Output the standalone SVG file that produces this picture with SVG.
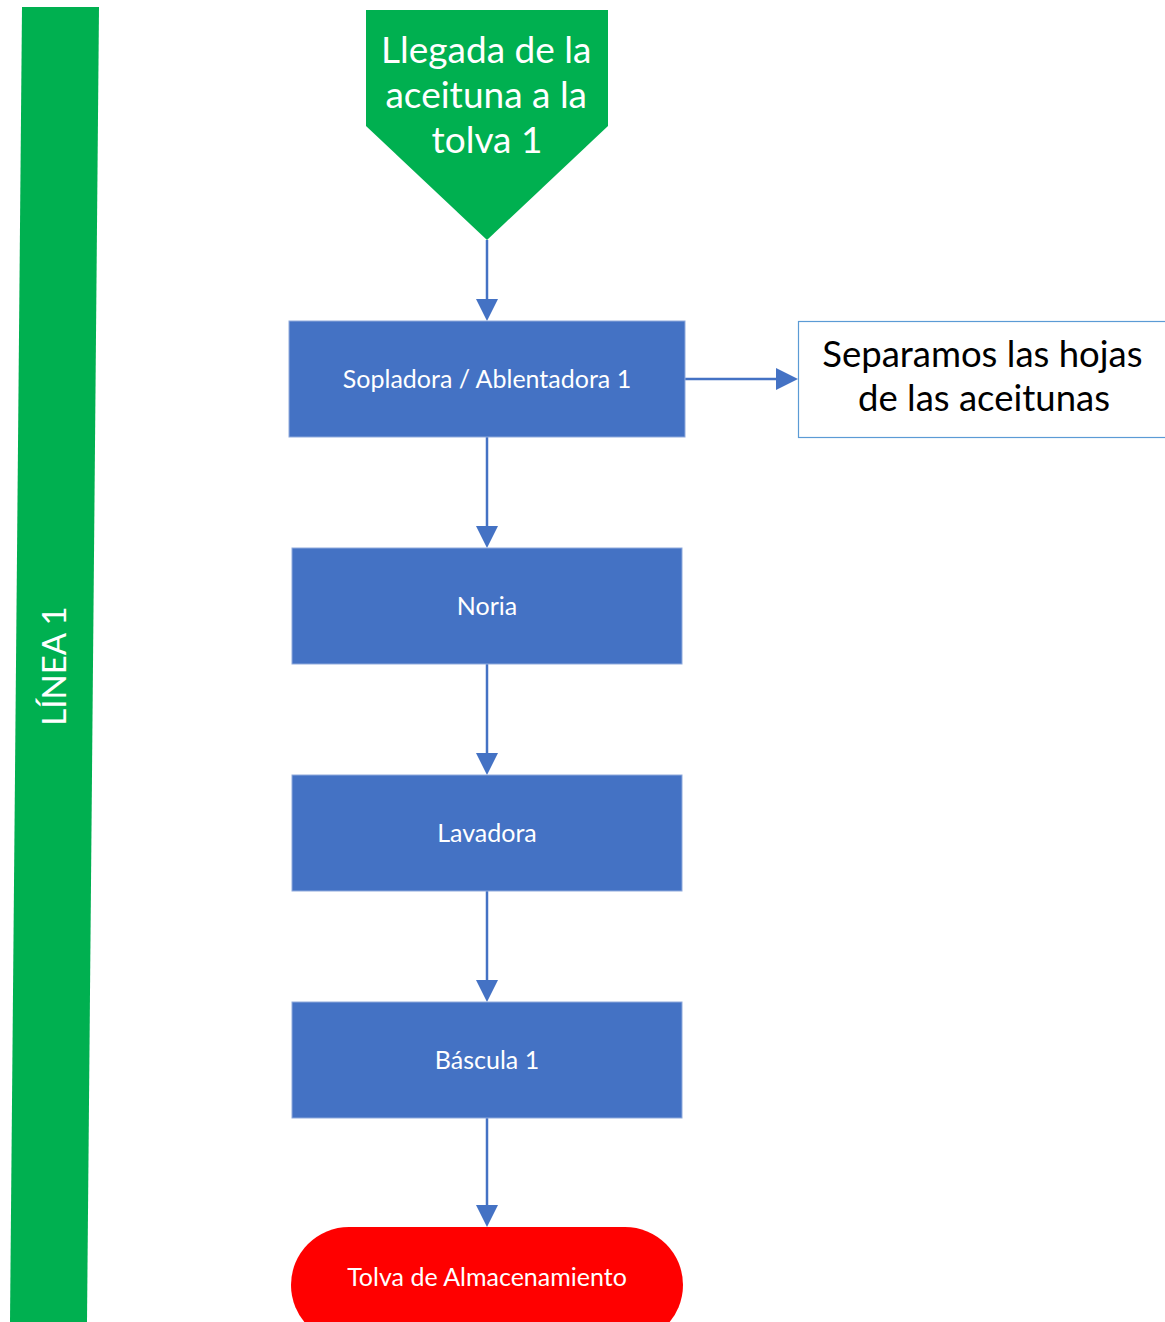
<svg xmlns="http://www.w3.org/2000/svg" width="1165" height="1322" viewBox="0 0 1165 1322">
  <style>
    .lbl { font-family: Lato, "Open Sans", "Liberation Sans", sans-serif; text-anchor: middle; }
    .proc { fill: #4472C4; stroke: #8FAADC; stroke-width: 1; }
    .wt { fill: #FFFFFF; font-size: 25px; }
    .conn { stroke: #4472C4; stroke-width: 2.5; fill: none; }
    .head { fill: #4472C4; }
  </style>
  <rect width="1165" height="1322" fill="#FFFFFF"/>

  <!-- lane bar -->
  <g id="lane">
    <polygon points="22,7 99,7 87,1322 10,1322" fill="#00B050"/>
    <text class="lbl" x="0" y="0" transform="translate(66,666) rotate(-90)" fill="#FFFFFF" font-size="33">LÍNEA 1</text>
  </g>

  <!-- connectors -->
  <g id="connectors">
    <line class="conn" x1="487" y1="240" x2="487" y2="300"/>
    <polygon class="head" points="476,299 498,299 487,321"/>
    <line class="conn" x1="487" y1="437" x2="487" y2="527"/>
    <polygon class="head" points="476,526 498,526 487,548"/>
    <line class="conn" x1="487" y1="664" x2="487" y2="754"/>
    <polygon class="head" points="476,753 498,753 487,775"/>
    <line class="conn" x1="487" y1="891" x2="487" y2="981"/>
    <polygon class="head" points="476,980 498,980 487,1002"/>
    <line class="conn" x1="487" y1="1118" x2="487" y2="1206"/>
    <polygon class="head" points="476,1205 498,1205 487,1227"/>
    <line class="conn" x1="685" y1="379" x2="777" y2="379"/>
    <polygon class="head" points="776,368 776,390 798,379"/>
  </g>

  <!-- start: olive arrival -->
  <g id="llegada">
    <polygon points="366,10 608,10 608,126 487,240 366,126" fill="#00B050"/>
    <text class="lbl" fill="#FFFFFF" font-size="37">
      <tspan x="491" y="63">Llegada de la</tspan>
      <tspan x="491" y="108">aceituna a la</tspan>
      <tspan x="487" y="153">tolva 1</tspan>
    </text>
  </g>

  <g id="sopladora">
    <rect class="proc" x="289" y="321" width="396" height="116"/>
    <text class="lbl wt" x="487" y="388">Sopladora / Ablentadora 1</text>
  </g>

  <g id="nota">
    <rect x="798.5" y="321.5" width="380" height="116" fill="#FFFFFF" stroke="#5B9BD5" stroke-width="1.2"/>
    <text class="lbl" fill="#000000" font-size="36.5">
      <tspan x="987" y="367">Separamos las hojas</tspan>
      <tspan x="984" y="411">de las aceitunas</tspan>
    </text>
  </g>

  <g id="noria">
    <rect class="proc" x="292" y="548" width="390" height="116"/>
    <text class="lbl wt" x="487" y="615">Noria</text>
  </g>

  <g id="lavadora">
    <rect class="proc" x="292" y="775" width="390" height="116"/>
    <text class="lbl wt" x="487" y="842">Lavadora</text>
  </g>

  <g id="bascula">
    <rect class="proc" x="292" y="1002" width="390" height="116"/>
    <text class="lbl wt" x="487" y="1069">Báscula 1</text>
  </g>

  <g id="tolva">
    <rect x="291" y="1227" width="392" height="116" rx="58" ry="58" fill="#FF0000"/>
    <text class="lbl wt" x="487" y="1286">Tolva de Almacenamiento</text>
  </g>
</svg>
